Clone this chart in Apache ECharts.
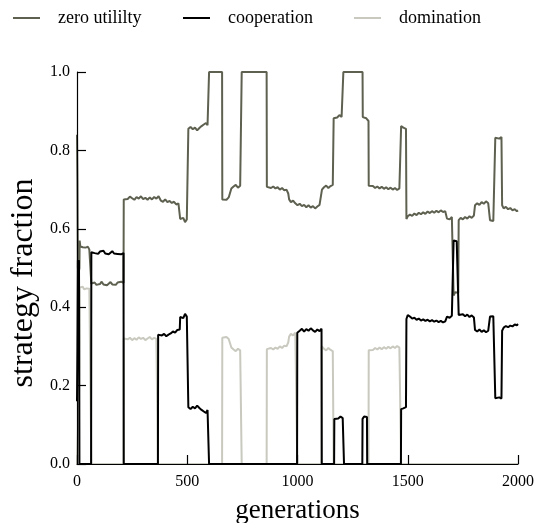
<!DOCTYPE html>
<html>
<head>
<meta charset="utf-8">
<script src="https://cdn.jsdelivr.net/npm/echarts@6/dist/echarts.min.js"></script>
<style>
html,body{margin:0;padding:0;background:#fff;}
#chart{width:541px;height:523px;}
</style>
</head>
<body>
<div id="chart"></div>
<script>
// ---- data ----
const seriesNames = ['zero utililty', 'cooperation', 'domination'];
const xTicks = [0, 500, 1000, 1500, 2000];
const yTicks = [0.0, 0.2, 0.4, 0.6, 0.8, 1.0];

const zeroUtility = [
[0,0.84],[2,0.72],[4,0.50],[8,0.49],[11,0.50],[12,0.57],[15,0.555],[20,0.55],[26,0.553],[32,0.548],[38,0.552],[44,0.549],[50,0.554],[56,0.547],[62,0.551],[64,0.55],
[65,0.46],[72,0.458],[80,0.463],[88,0.457],[96,0.462],[104,0.459],[112,0.465],[120,0.458],[128,0.462],[136,0.456],[144,0.461],[152,0.464],[160,0.458],[168,0.462],[176,0.457],[184,0.463],[192,0.46],[200,0.465],[208,0.461],[211,0.462],
[212,0.675],[220,0.68],[230,0.676],[240,0.682],[250,0.678],[260,0.674],[270,0.681],[280,0.677],[290,0.683],[300,0.676],[310,0.679],[320,0.674],[330,0.68],[340,0.675],[350,0.681],[360,0.677],[370,0.683],[380,0.672],[390,0.669],[400,0.675],[410,0.668],[420,0.671],[430,0.666],[440,0.669],[450,0.662],[460,0.665],[466,0.66],
[468,0.625],[475,0.62],[482,0.628],[490,0.617],[498,0.624],[504,0.621],
[505,0.855],[515,0.86],[525,0.854],[535,0.858],[545,0.851],[555,0.857],[565,0.862],[575,0.866],[585,0.87],[592,0.864],[598,0.86],
[599,1],[658,1],[659,0.675],[668,0.68],[678,0.674],[688,0.68],[695,0.685],[700,0.703],[710,0.708],[720,0.712],[730,0.705],[740,0.71],[746,0.71],
[747,1],[860,1],[861,0.707],[870,0.71],[880,0.704],[890,0.708],[900,0.703],[910,0.706],[920,0.7],[930,0.704],[940,0.698],[950,0.7],[958,0.69],[962,0.675],[970,0.668],[980,0.672],[990,0.665],[1000,0.66],[1010,0.664],[1020,0.658],[1030,0.661],[1040,0.655],[1050,0.66],[1060,0.654],[1070,0.658],[1080,0.652],[1090,0.657],[1100,0.661],[1108,0.665],[1111,0.7],[1120,0.706],[1130,0.71],[1140,0.704],[1150,0.709],[1160,0.712],[1163,0.708],
[1164,0.882],[1172,0.886],[1180,0.884],[1190,0.89],[1200,0.885],[1207,0.887],
[1208,1],[1295,1],[1296,0.885],[1304,0.888],[1312,0.882],[1320,0.878],[1322,0.875],
[1323,0.71],[1332,0.705],[1342,0.709],[1352,0.704],[1362,0.708],[1372,0.703],[1382,0.707],[1392,0.702],[1402,0.706],[1412,0.701],[1422,0.705],[1432,0.7],[1442,0.704],[1452,0.699],[1462,0.703],[1469,0.702],
[1470,0.862],[1480,0.858],[1492,0.855],
[1494,0.625],[1500,0.632],[1510,0.636],[1520,0.633],[1530,0.639],[1540,0.635],[1550,0.641],[1560,0.637],[1570,0.642],[1580,0.638],[1590,0.644],[1600,0.64],[1610,0.645],[1620,0.641],[1630,0.646],[1640,0.642],[1650,0.647],[1660,0.643],[1670,0.645],[1677,0.64],
[1678,0.626],[1690,0.624],[1700,0.63],[1707,0.627],
[1708,0.43],[1715,0.438],[1722,0.435],[1729,0.437],
[1731,0.622],[1740,0.628],[1750,0.624],[1760,0.63],[1770,0.626],[1780,0.632],[1790,0.628],[1800,0.634],[1804,0.63],
[1805,0.66],[1815,0.665],[1825,0.661],[1835,0.668],[1845,0.664],[1855,0.67],[1865,0.665],[1872,0.662],
[1873,0.622],[1880,0.627],[1888,0.62],[1895,0.625],
[1897,0.832],[1905,0.835],[1915,0.83],[1925,0.834],
[1928,0.66],[1935,0.652],[1945,0.656],[1955,0.65],[1965,0.653],[1975,0.647],[1985,0.65],[1995,0.645],[2000,0.647]
];

const cooperation = [
[0,0.16],[2,0.3],[4,0.52],[6,0.51],[9,0.52],[10,0.33],[11,0],[64,0],
[65,0.54],[72,0.545],[80,0.538],[88,0.543],[96,0.536],[104,0.542],[112,0.539],[120,0.544],[128,0.537],[136,0.541],[144,0.535],[152,0.54],[160,0.543],[168,0.537],[176,0.542],[184,0.536],[192,0.54],[200,0.535],[208,0.539],[211,0.538],
[212,0],[367,0],[368,0.33],[375,0.335],[385,0.328],[395,0.332],[405,0.326],[415,0.33],[425,0.333],[435,0.338],[445,0.335],[455,0.342],[462,0.345],[466,0.343],
[468,0.375],[475,0.38],[482,0.372],[490,0.383],[498,0.376],[504,0.379],
[505,0.145],[515,0.14],[525,0.146],[535,0.142],[545,0.149],[555,0.143],[565,0.138],[575,0.134],[585,0.13],[592,0.138],[598,0.14],
[599,0],[998,0],[999,0.335],[1010,0.34],[1020,0.345],[1030,0.338],[1040,0.344],[1050,0.34],[1060,0.346],[1070,0.341],[1080,0.337],[1090,0.343],[1100,0.339],[1109,0.345],
[1110,0],[1166,0],[1167,0.115],[1175,0.12],[1185,0.116],[1195,0.121],[1205,0.117],[1210,0.115],
[1211,0],[1294,0],[1295,0.115],[1302,0.121],[1310,0.117],[1315,0.12],[1316,0],[1469,0],
[1470,0.14],[1480,0.142],[1492,0.145],
[1494,0.37],[1500,0.38],[1510,0.376],[1520,0.371],[1530,0.373],[1540,0.368],[1550,0.371],[1560,0.366],[1570,0.369],[1580,0.365],[1590,0.368],[1600,0.364],[1610,0.367],[1620,0.363],[1630,0.366],[1640,0.362],[1650,0.365],[1660,0.361],[1670,0.364],[1677,0.36],
[1678,0.376],[1690,0.373],[1700,0.378],[1707,0.374],
[1708,0.57],[1715,0.566],[1722,0.568],[1729,0.564],
[1731,0.38],[1740,0.376],[1750,0.382],[1760,0.377],[1770,0.381],[1780,0.375],[1790,0.379],[1800,0.374],[1804,0.37],
[1805,0.342],[1815,0.338],[1825,0.343],[1835,0.337],[1845,0.341],[1855,0.336],[1865,0.34],[1872,0.342],
[1873,0.376],[1880,0.38],[1888,0.377],[1895,0.372],
[1897,0.168],[1905,0.165],[1915,0.17],[1925,0.167],
[1928,0.34],[1935,0.348],[1945,0.352],[1955,0.349],[1965,0.353],[1975,0.351],[1985,0.356],[1995,0.354],[2000,0.357]
];

const domination = [
[0,0],[8,0],[10,0.2],[12,0.45],[16,0.455],[20,0.447],[26,0.452],[32,0.446],[38,0.451],[44,0.448],[50,0.453],[56,0.447],[62,0.45],[64,0.449],
[65,0],[211,0],[212,0.32],[220,0.325],[230,0.318],[240,0.322],[250,0.316],[260,0.321],[270,0.317],[280,0.323],[290,0.319],[300,0.322],[310,0.316],[320,0.32],[330,0.324],[340,0.318],[350,0.322],[360,0.319],[366,0.321],
[367,0],[658,0],[659,0.322],[668,0.318],[678,0.324],[688,0.319],[695,0.315],[700,0.297],[710,0.292],[720,0.288],[730,0.294],[740,0.29],[746,0.292],
[747,0],[860,0],[861,0.293],[870,0.29],[880,0.296],[890,0.292],[900,0.297],[910,0.294],[920,0.3],[930,0.296],[940,0.302],[950,0.3],[958,0.31],[962,0.325],[970,0.332],[980,0.328],[990,0.335],[998,0.34],
[999,0],[1109,0],[1110,0.3],[1120,0.294],[1130,0.29],[1140,0.296],[1150,0.291],[1160,0.288],[1163,0.292],
[1164,0],[1322,0],[1323,0.29],[1332,0.295],[1342,0.291],[1352,0.296],[1362,0.292],[1372,0.297],[1382,0.293],[1392,0.298],[1402,0.294],[1412,0.299],[1422,0.295],[1432,0.3],[1442,0.296],[1452,0.301],[1462,0.297],[1469,0.298],
[1470,0],[2000,0]
];

// ---- chart ----
const FONT = "'Liberation Serif','Times New Roman',serif";
const colors = ['#5e6150', '#000000', '#c9c9bf'];
const chart = echarts.init(document.getElementById('chart'), null, {renderer:'canvas'});

function legendAt(name, left) {
  return {
    data: [name], left: left, top: 9, padding: 0, icon: 'rect', itemWidth: 27, itemHeight: 2,
    textStyle: {fontFamily: FONT, fontSize: 18, color: '#000', padding: [0,0,0,13]}
  };
}

chart.setOption({
  animation: false,
  backgroundColor: '#fff',
  legend: [legendAt(seriesNames[0], 13), legendAt(seriesNames[1], 183), legendAt(seriesNames[2], 354)],
  grid: {left: 77, right: 23, top: 72, bottom: 59, containLabel: false, outerBoundsMode: 'none'},
  xAxis: {
    type: 'value', min: 0, max: 2000, interval: 500, z: 10,
    name: 'generations', nameLocation: 'middle', nameGap: 33,
    nameTextStyle: {fontFamily: FONT, fontSize: 27, color: '#000'},
    axisLine: {show: true, onZero: false, lineStyle: {color: '#000', width: 1.2}},
    axisTick: {show: true, inside: true, length: 9, lineStyle: {color: '#000', width: 1.2}},
    axisLabel: {fontFamily: FONT, fontSize: 16, color: '#000', margin: 10,
      formatter: v => xTicks.includes(v) ? String(v) : ''},
    splitLine: {show: false}
  },
  yAxis: {
    type: 'value', min: 0, max: 1, interval: 0.2, z: 10,
    name: 'strategy fraction', nameLocation: 'middle', nameGap: 32,
    nameTextStyle: {fontFamily: FONT, fontSize: 32, color: '#000', padding: [0, 30, 0, 0]},
    axisLine: {show: true, onZero: false, lineStyle: {color: '#000', width: 1.2}},
    axisTick: {show: true, inside: true, length: 9, lineStyle: {color: '#000', width: 1.2}},
    axisLabel: {fontFamily: FONT, fontSize: 16, color: '#000', margin: 7,
      formatter: v => v.toFixed(1)},
    splitLine: {show: false}
  },
  series: [
    {name: seriesNames[0], type: 'line', data: zeroUtility, showSymbol: false, z: 3,
      lineStyle: {color: colors[0], width: 2}, itemStyle: {color: colors[0]}},
    {name: seriesNames[1], type: 'line', data: cooperation, showSymbol: false, z: 4,
      lineStyle: {color: colors[1], width: 2}, itemStyle: {color: colors[1]}},
    {name: seriesNames[2], type: 'line', data: domination, showSymbol: false, z: 2,
      lineStyle: {color: colors[2], width: 2}, itemStyle: {color: colors[2]}}
  ]
});
</script>
</body>
</html>
